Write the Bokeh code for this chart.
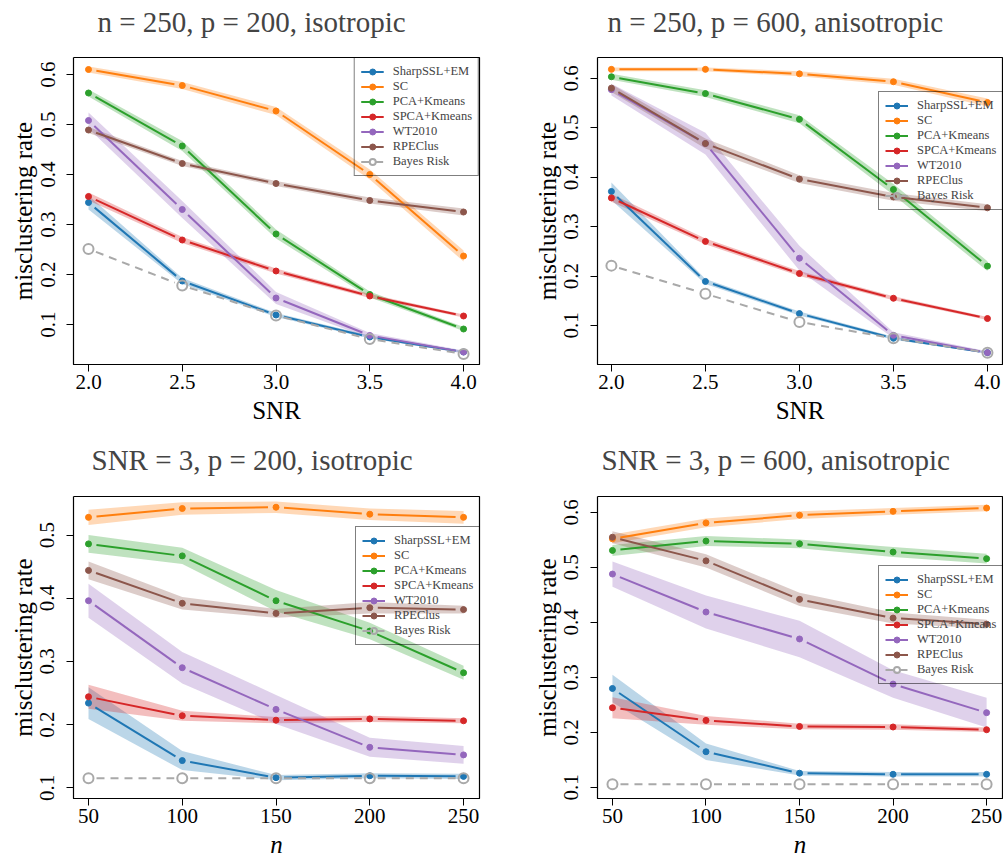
import math
from bokeh.plotting import figure
from bokeh.models import FixedTicker, PrintfTickFormatter, Legend, LegendItem, Range1d, LinearAxis
from bokeh.layouts import column, row
from bokeh.embed import file_html
from bokeh.resources import INLINE

METHODS = ["SharpSSL+EM", "SC", "PCA+Kmeans", "SPCA+Kmeans", "WT2010", "RPEClus", "Bayes Risk"]
COLORS = ["#1f77b4", "#ff7f0e", "#2ca02c", "#d62728", "#9467bd", "#8c564b", "#a9a9a9"]

SNR = [2.0, 2.5, 3.0, 3.5, 4.0]
N_SIZES = [50, 100, 150, 200, 250]

TITLES = ["n = 250, p = 200, isotropic", "n = 250, p = 600, anisotropic",
          "SNR = 3, p = 200, isotropic", "SNR = 3, p = 600, anisotropic"]
X_LABELS = ["SNR", "SNR", "n", "n"]
Y_LABEL = "misclustering rate"

Y_TICKS_A = [0.1, 0.2, 0.3, 0.4, 0.5, 0.6]
Y_TICKS_B = [0.1, 0.2, 0.3, 0.4, 0.5, 0.6]
Y_TICKS_C = [0.1, 0.2, 0.3, 0.4, 0.5]
Y_TICKS_D = [0.1, 0.2, 0.3, 0.4, 0.5, 0.6]

# ---- panel A: n=250, p=200, isotropic (x = SNR)
A_MEAN = {
    "SharpSSL+EM": [0.344, 0.187, 0.119, 0.075, 0.045],
    "SC":          [0.610, 0.578, 0.527, 0.400, 0.237],
    "PCA+Kmeans":  [0.563, 0.457, 0.281, 0.160, 0.091],
    "SPCA+Kmeans": [0.356, 0.269, 0.207, 0.157, 0.117],
    "WT2010":      [0.508, 0.330, 0.153, 0.078, 0.045],
    "RPEClus":     [0.489, 0.422, 0.382, 0.348, 0.325],
    "Bayes Risk":  [0.251, 0.178, 0.118, 0.071, 0.041],
}
A_HALF = {
    "SharpSSL+EM": [0.014, 0.006, 0.004, 0.003, 0.002],
    "SC":          [0.006, 0.007, 0.008, 0.010, 0.011],
    "PCA+Kmeans":  [0.007, 0.010, 0.009, 0.006, 0.004],
    "SPCA+Kmeans": [0.008, 0.006, 0.005, 0.004, 0.003],
    "WT2010":      [0.016, 0.017, 0.012, 0.005, 0.003],
    "RPEClus":     [0.006, 0.005, 0.005, 0.006, 0.007],
}

# ---- panel B: n=250, p=600, anisotropic (x = SNR)
B_MEAN = {
    "SharpSSL+EM": [0.371, 0.189, 0.124, 0.074, 0.045],
    "SC":          [0.618, 0.618, 0.609, 0.593, 0.551],
    "PCA+Kmeans":  [0.603, 0.569, 0.517, 0.375, 0.220],
    "SPCA+Kmeans": [0.358, 0.270, 0.205, 0.155, 0.114],
    "WT2010":      [0.577, 0.468, 0.236, 0.080, 0.045],
    "RPEClus":     [0.580, 0.468, 0.396, 0.360, 0.338],
    "Bayes Risk":  [0.221, 0.164, 0.107, 0.074, 0.045],
}
B_HALF = {
    "SharpSSL+EM": [0.018, 0.005, 0.004, 0.003, 0.002],
    "SC":          [0.004, 0.004, 0.005, 0.006, 0.008],
    "PCA+Kmeans":  [0.006, 0.007, 0.008, 0.011, 0.010],
    "SPCA+Kmeans": [0.008, 0.006, 0.005, 0.004, 0.003],
    "WT2010":      [0.012, 0.022, 0.025, 0.006, 0.003],
    "RPEClus":     [0.008, 0.010, 0.008, 0.008, 0.007],
}

# ---- panel C: SNR=3, p=200, isotropic (x = n)
C_MEAN = {
    "SharpSSL+EM": [0.234, 0.143, 0.116, 0.119, 0.118],
    "SC":          [0.528, 0.542, 0.544, 0.533, 0.528],
    "PCA+Kmeans":  [0.486, 0.467, 0.396, 0.348, 0.282],
    "SPCA+Kmeans": [0.244, 0.214, 0.207, 0.209, 0.206],
    "WT2010":      [0.396, 0.290, 0.224, 0.164, 0.152],
    "RPEClus":     [0.444, 0.392, 0.376, 0.385, 0.382],
    "Bayes Risk":  [0.115, 0.115, 0.115, 0.115, 0.115],
}
C_HALF = {
    "SharpSSL+EM": [0.025, 0.015, 0.004, 0.004, 0.004],
    "SC":          [0.012, 0.010, 0.009, 0.009, 0.010],
    "PCA+Kmeans":  [0.014, 0.013, 0.017, 0.013, 0.011],
    "SPCA+Kmeans": [0.019, 0.008, 0.005, 0.005, 0.004],
    "WT2010":      [0.027, 0.025, 0.023, 0.015, 0.014],
    "RPEClus":     [0.014, 0.010, 0.007, 0.009, 0.006],
}

# ---- panel D: SNR=3, p=600, anisotropic (x = n)
D_MEAN = {
    "SharpSSL+EM": [0.280, 0.165, 0.126, 0.124, 0.124],
    "SC":          [0.552, 0.581, 0.595, 0.602, 0.608],
    "PCA+Kmeans":  [0.531, 0.548, 0.543, 0.528, 0.516],
    "SPCA+Kmeans": [0.245, 0.222, 0.211, 0.210, 0.205],
    "WT2010":      [0.488, 0.419, 0.370, 0.288, 0.236],
    "RPEClus":     [0.555, 0.512, 0.442, 0.408, 0.397],
    "Bayes Risk":  [0.106, 0.106, 0.106, 0.106, 0.106],
}
D_HALF = {
    "SharpSSL+EM": [0.025, 0.015, 0.004, 0.004, 0.004],
    "SC":          [0.008, 0.008, 0.007, 0.006, 0.006],
    "PCA+Kmeans":  [0.010, 0.009, 0.008, 0.009, 0.009],
    "SPCA+Kmeans": [0.019, 0.008, 0.005, 0.005, 0.004],
    "WT2010":      [0.023, 0.030, 0.033, 0.025, 0.027],
    "RPEClus":     [0.011, 0.012, 0.012, 0.010, 0.008],
}

SERIF = "Liberation Serif"
GAP = 8  # px gap between points and line segments (R type="b")


def gapped_segments(xs, ys, sx, sy, gap):
    out_x, out_y = [], []
    for i in range(len(xs) - 1):
        x0, y0, x1, y1 = xs[i], ys[i], xs[i + 1], ys[i + 1]
        L = math.hypot((x1 - x0) * sx, (y1 - y0) * sy)
        if L <= 2 * gap:
            continue
        f = gap / L
        out_x.append([x0 + (x1 - x0) * f, x1 - (x1 - x0) * f])
        out_y.append([y0 + (y1 - y0) * f, y1 - (y1 - y0) * f])
    return out_x, out_y


def make_panel(title, xs, xlabel, xfmt, xrange, yrange, yticks, means, halves,
               fw, fh, borders, title_offset, title_gap, legend_loc):
    bl, br, bt, bb = borders
    p = figure(frame_width=fw, frame_height=fh, x_range=Range1d(*xrange), y_range=Range1d(*yrange),
               output_backend="svg", toolbar_location=None,
               min_border_left=bl, min_border_right=br, min_border_top=bt, min_border_bottom=bb)
    p.xgrid.visible = False
    p.ygrid.visible = False
    p.outline_line_color = "black"
    p.outline_line_width = 1.2
    p.background_fill_color = "white"
    p.border_fill_color = "white"

    xa = p.below[0]
    ya = p.left[0]
    xa.ticker = FixedTicker(ticks=xs)
    xa.formatter = PrintfTickFormatter(format=xfmt)
    ya.ticker = FixedTicker(ticks=yticks)
    ya.formatter = PrintfTickFormatter(format="%.1f")
    for ax in (xa, ya):
        ax.major_label_text_font = SERIF
        ax.major_label_text_font_size = "21px"
        ax.major_label_text_color = "black"
        ax.axis_label_text_font = SERIF
        ax.axis_label_text_font_size = "25px"
        ax.axis_label_text_color = "black"
        ax.axis_label_text_font_style = "normal"
        ax.major_tick_out = 7
        ax.major_tick_in = 0
        ax.minor_tick_line_color = None
        ax.major_tick_line_color = "black"
        ax.axis_line_color = "black"
    xa.major_label_standoff = 3
    xa.axis_label_standoff = 5
    ya.major_label_standoff = 12
    ya.axis_label_standoff = 1
    xa.axis_label = xlabel
    if xlabel == "n":
        xa.axis_label_text_font_style = "italic"
    ya.axis_label = Y_LABEL
    ya.major_label_orientation = "parallel"

    # invisible spacer between frame and title: one white tick at the frame corner, no label
    spacer = LinearAxis(ticker=FixedTicker(ticks=[xrange[0]]),
                        formatter=PrintfTickFormatter(format=""),
                        axis_line_color=None, major_tick_line_color="white",
                        minor_tick_line_color=None, major_label_text_font_size="0px",
                        major_label_standoff=0, major_tick_out=title_gap, major_tick_in=0,
                        minor_tick_out=0, minor_tick_in=0)
    p.add_layout(spacer, "above")

    p.title.text = title
    p.title.text_font = SERIF
    p.title.text_font_size = "29px"
    p.title.text_font_style = "normal"
    p.title.align = "left"
    p.title.offset = title_offset
    p.title.standoff = 1

    sx = fw / (xrange[1] - xrange[0])
    sy = fh / (yrange[1] - yrange[0])

    # confidence bands
    for m, c in zip(METHODS, COLORS):
        if m in halves:
            lo = [v - h for v, h in zip(means[m], halves[m])]
            hi = [v + h for v, h in zip(means[m], halves[m])]
            p.varea(x=xs, y1=lo, y2=hi, fill_color=c, fill_alpha=0.3)

    items = []
    for m, c in zip(METHODS, COLORS):
        gx, gy = gapped_segments(xs, means[m], sx, sy, GAP)
        if m == "Bayes Risk":
            lr = p.multi_line(xs=gx, ys=gy, line_color=c, line_width=2, line_dash="8 6")
            sr = p.scatter(x=xs, y=means[m], size=10, marker="circle", fill_color="white",
                           fill_alpha=0, line_color=c, line_width=2)
        else:
            lr = p.multi_line(xs=gx, ys=gy, line_color=c, line_width=2)
            sr = p.scatter(x=xs, y=means[m], size=6, marker="circle", fill_color=c, line_color=c)
        items.append(LegendItem(label=m, renderers=[lr, sr]))

    leg = Legend(items=items, location=legend_loc)
    leg.label_text_font = SERIF
    leg.label_text_font_size = "12.5px"
    leg.label_height = 15
    leg.glyph_height = 15
    leg.glyph_width = 23
    leg.label_standoff = 9
    leg.spacing = 0
    leg.padding = 6
    leg.margin = 0
    leg.border_line_color = "black"
    leg.border_line_width = 1.2
    leg.background_fill_alpha = 0
    p.add_layout(leg)
    return p


FW_L, FW_R = 406, 405
FH_T, FH_B = 307, 302
LEG_W, LEG_H = 124, 117

pA = make_panel(TITLES[0], SNR, X_LABELS[0], "%.1f", (1.92, 4.085), (0.02, 0.634), Y_TICKS_A,
                A_MEAN, A_HALF, FW_L, FH_T, (73, 51, 57, 72), 24, 19, "top_right")
pB = make_panel(TITLES[1], SNR, X_LABELS[1], "%.1f", (1.926, 4.08), (0.021, 0.642), Y_TICKS_B,
                B_MEAN, B_HALF, FW_R, FH_T, (67, 1, 57, 72), 10, 19,
                (FW_R - LEG_W, FH_T - 36 - LEG_H))
pC = make_panel(TITLES[2], N_SIZES, X_LABELS[2], "%d", (42, 258.5), (0.083, 0.561), Y_TICKS_C,
                C_MEAN, C_HALF, FW_L, FH_B, (73, 51, 60, 68), 18, 20,
                (FW_L - LEG_W, FH_B - 32 - LEG_H))
pD = make_panel(TITLES[3], N_SIZES, X_LABELS[3], "%d", (42, 258.5), (0.080, 0.629), Y_TICKS_D,
                D_MEAN, D_HALF, FW_R, FH_B, (67, 1, 60, 68), 4, 20,
                (FW_R - LEG_W, FH_B - 71 - LEG_H))

layout = column(row(pA, pB), row(pC, pD))

open("out.html", "w").write(file_html(layout, INLINE))
